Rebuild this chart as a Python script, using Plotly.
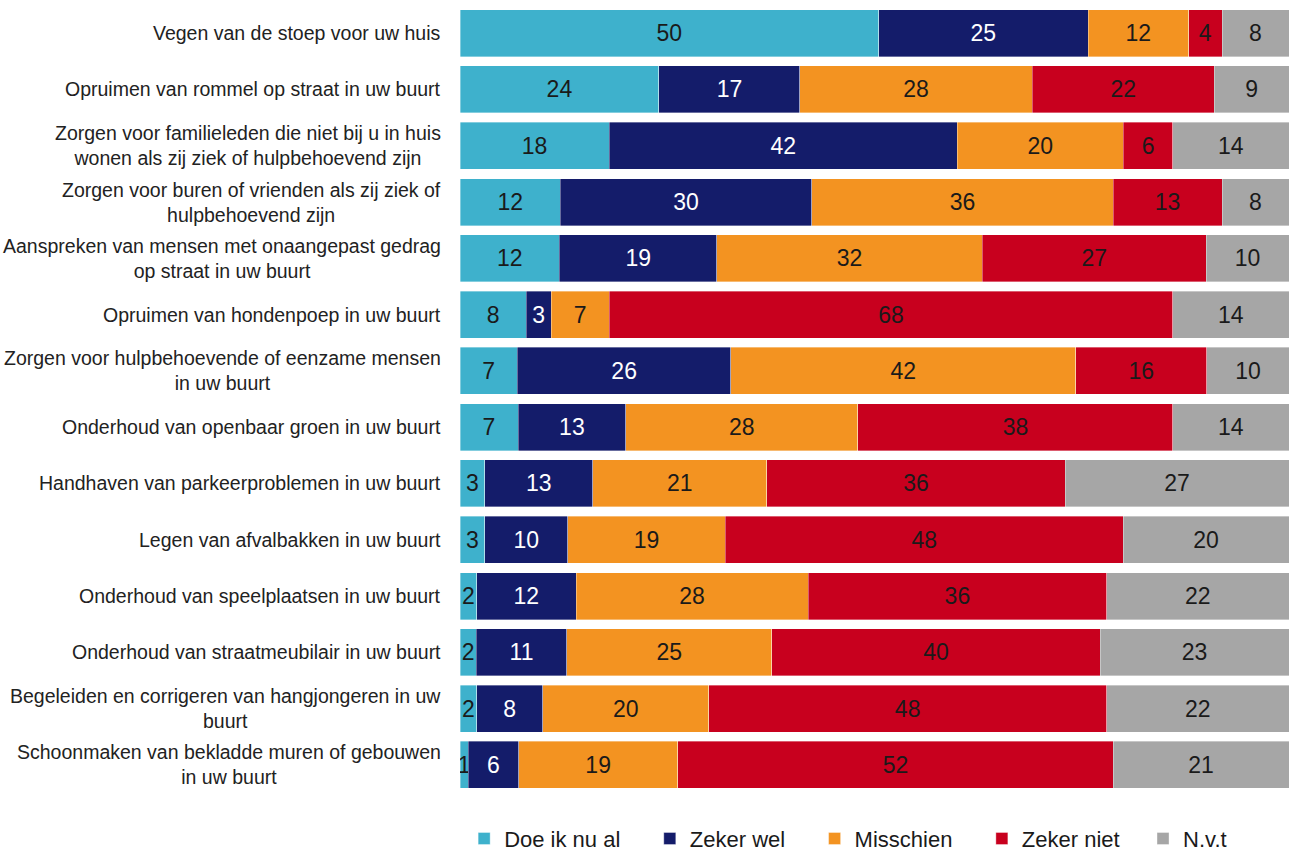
import plotly.graph_objects as go

categories = [
    "Vegen van de stoep voor uw huis",
    "Opruimen van rommel op straat in uw buurt",
    "Zorgen voor familieleden die niet bij u in huis<br>wonen als zij ziek of hulpbehoevend zijn",
    "Zorgen voor buren of vrienden als zij ziek of<br>hulpbehoevend zijn",
    "Aanspreken van mensen met onaangepast gedrag<br>op straat in uw buurt",
    "Opruimen van hondenpoep in uw buurt",
    "Zorgen voor hulpbehoevende of eenzame mensen<br>in uw buurt",
    "Onderhoud van openbaar groen in uw buurt",
    "Handhaven van parkeerproblemen in uw buurt",
    "Legen van afvalbakken in uw buurt",
    "Onderhoud van speelplaatsen in uw buurt",
    "Onderhoud van straatmeubilair in uw buurt",
    "Begeleiden en corrigeren van hangjongeren in uw<br>buurt",
    "Schoonmaken van bekladde muren of gebouwen<br>in uw buurt",
]

doe_ik_nu_al = [50, 24, 18, 12, 12, 8, 7, 7, 3, 3, 2, 2, 2, 1]
zeker_wel = [25, 17, 42, 30, 19, 3, 26, 13, 13, 10, 12, 11, 8, 6]
misschien = [12, 28, 20, 36, 32, 7, 42, 28, 21, 19, 28, 25, 20, 19]
zeker_niet = [4, 22, 6, 13, 27, 68, 16, 38, 36, 48, 36, 40, 48, 52]
nvt = [8, 9, 14, 8, 10, 14, 10, 14, 27, 20, 22, 23, 22, 21]

series_names = ["Doe ik nu al", "Zeker wel", "Misschien", "Zeker niet", "N.v.t"]
series_values = [doe_ik_nu_al, zeker_wel, misschien, zeker_niet, nvt]
series_colors = ["#3EB1CC", "#141C6A", "#F39321", "#C8001E", "#A6A6A6"]
text_colors = ["#1a1a1a", "#ffffff", "#1a1a1a", "#1a1a1a", "#1a1a1a"]
legend_pad = [4, 4, 4, 3, 0]  # non-breaking spaces after legend text (spacing)

FONT = "Liberation Sans, Arial, sans-serif"

fig = go.Figure()
for name, vals, color, tcolor, pad in zip(series_names, series_values, series_colors,
                                          text_colors, legend_pad):
    fig.add_trace(go.Bar(
        y=categories, x=vals, name=name + "\u00a0" * pad, orientation="h",
        marker=dict(color=color, line=dict(width=0.6, color="rgba(255,255,255,0.6)")),
        text=[str(v) for v in vals], textposition="inside",
        insidetextanchor="middle", textangle=0, constraintext="none",
        textfont=dict(family=FONT, size=23, color=tcolor),
        hoverinfo="skip",
    ))

for c in categories:
    fig.add_annotation(
        x=0, xref="paper", y=c, yref="y", text=c, showarrow=False,
        xanchor="right", yanchor="middle", align="center", xshift=-17,
        font=dict(family=FONT, size=19.5, color="#222222"),
    )

fig.update_layout(
    width=1289, height=852,
    barmode="stack", barnorm="percent", bargap=0.165,
    margin=dict(l=460, r=0, t=5, b=59, autoexpand=False),
    plot_bgcolor="white", paper_bgcolor="white",
    xaxis=dict(visible=False, range=[0, 100], fixedrange=True),
    yaxis=dict(range=[13.5, -0.5], showticklabels=False, showgrid=False,
               zeroline=False, showline=False, ticks=""),
    legend=dict(orientation="h", x=0.005, xanchor="left", y=-0.058, yanchor="middle",
                traceorder="normal",
                font=dict(family=FONT, size=22, color="#1a1a1a"),
                itemclick=False, itemdoubleclick=False),
    showlegend=True,
)

fig.write_html(
    "out.html",
    config={"displayModeBar": False},
    post_script="document.body.style.margin='0';document.body.style.overflow='hidden';",
)
